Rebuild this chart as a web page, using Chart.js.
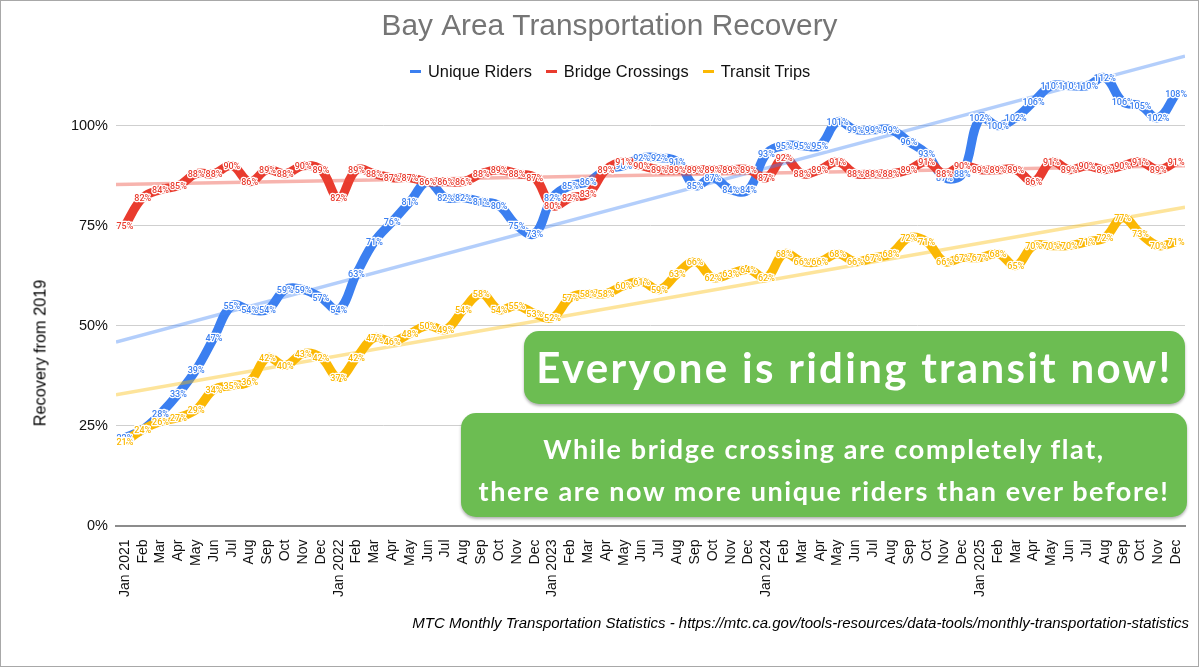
<!DOCTYPE html>
<html>
<head>
<meta charset="utf-8">
<title>Bay Area Transportation Recovery</title>
<script src="https://cdn.jsdelivr.net/npm/chart.js@4/dist/chart.umd.min.js"></script>
<style>
  html, body { margin: 0; padding: 0; background: #fff; }
  #wrap { position: relative; width: 1199px; height: 667px; overflow: hidden; font-family: "Liberation Sans", Arial, sans-serif; }
  #wrap canvas { position: absolute; left: 0; top: 0; }
  #frame { position: absolute; left: 0; top: 0; width: 1197px; height: 665px; border: 1px solid #a8a8a8; pointer-events: none; }
  #legend { position: absolute; left: 410px; top: 62px; display: flex; font-size: 16.4px; line-height: 18px; color: #111; white-space: nowrap; }
  #legend .item { display: flex; align-items: center; margin-right: 14px; }
  #legend .dash { width: 11px; height: 3px; margin-right: 7px; }
  #yTitle { position: absolute; left: 40px; top: 353px; font-size: 16.3px; color: #000; white-space: nowrap; transform: translate(-50%, -50%) rotate(-90deg); }
  #source { position: absolute; right: 10px; top: 614px; font-size: 15px; font-style: italic; color: #000; white-space: nowrap; }
  .callout { position: absolute; background: #6cbd52; border-radius: 15px; box-shadow: 0 2px 3px rgba(0,0,0,.3); color: #fff; text-align: center; font-family: Lato, sans-serif; font-weight: 700; }
  #call1 { left: 524px; top: 331px; width: 661px; height: 73px; line-height: 72px; font-size: 42px; letter-spacing: 2.3px; }
  #call2 { left: 461px; top: 413px; width: 726px; height: 104px; padding-top: 15px; box-sizing: border-box; line-height: 42px; font-size: 27px; letter-spacing: 1.6px; }
</style>
</head>
<body>
<div id="wrap">
  <canvas id="chart" width="1199" height="667"></canvas>
  <div id="legend"></div>
  <div id="yTitle">Recovery from 2019</div>
  <div class="callout" id="call1">Everyone is riding transit now!</div>
  <div class="callout" id="call2">While bridge crossing are completely flat,<br>there are now more unique riders than ever before!</div>
  <div id="source">MTC Monthly Transportation Statistics - https://mtc.ca.gov/tools-resources/data-tools/monthly-transportation-statistics</div>
  <div id="frame"></div>
</div>
<script>
const months = [
  'Jan 2021','Feb','Mar','Apr','May','Jun','Jul','Aug','Sep','Oct','Nov','Dec',
  'Jan 2022','Feb','Mar','Apr','May','Jun','Jul','Aug','Sep','Oct','Nov','Dec',
  'Jan 2023','Feb','Mar','Apr','May','Jun','Jul','Aug','Sep','Oct','Nov','Dec',
  'Jan 2024','Feb','Mar','Apr','May','Jun','Jul','Aug','Sep','Oct','Nov','Dec',
  'Jan 2025','Feb','Mar','Apr','May','Jun','Jul','Aug','Sep','Oct','Nov','Dec'
];
const uniqueRiders = [
  22,24,28,33,39,47,55,54,54,59,59,57,
  54,63,71,76,81,86,82,82,81,80,75,73,
  82,85,86,89,90,92,92,91,85,87,84,84,
  93,95,95,95,101,99,99,99,96,93,87,88,
  102,100,102,106,110,110,110,112,106,105,102,108
];
const bridgeCrossings = [
  75,82,84,85,88,88,90,86,89,88,90,89,
  82,89,88,87,87,86,86,86,88,89,88,87,
  80,82,83,89,91,90,89,89,89,89,89,89,
  87,92,88,89,91,88,88,88,89,91,88,90,
  89,89,89,86,91,89,90,89,90,91,89,91
];
const transitTrips = [
  21,24,26,27,29,34,35,36,42,40,43,42,
  37,42,47,46,48,50,49,54,58,54,55,53,
  52,57,58,58,60,61,59,63,66,62,63,64,
  62,68,66,66,68,66,67,68,72,71,66,67,
  67,68,65,70,70,70,71,72,77,73,70,71
];
// trend lines: value at the left and right edge of the plot
const trendEdges = [0, 1];
const uniqueTrend = [45.9, 117.4];
const bridgeTrend = [85.3, 90];
const transitTrend = [32.7, 79.6];
const yTicks = [0, 25, 50, 75, 100];

const seriesNames = ['Unique Riders', 'Bridge Crossings', 'Transit Trips'];
const seriesColors = ['#3b7ff0', '#e93b2e', '#fbb804'];
const trendColors = ['rgba(66,133,244,.4)', 'rgba(234,67,53,.4)', 'rgba(251,188,4,.4)'];

document.getElementById('legend').innerHTML = seriesNames.map((name, i) =>
  `<div class="item"><div class="dash" style="background:${seriesColors[i]}"></div>${name}</div>`).join('');

const lineDataset = (i, values) => ({
  label: seriesNames[i],
  data: values,
  xAxisID: 'x',
  borderColor: seriesColors[i],
  backgroundColor: seriesColors[i],
  borderWidth: 9,
  tension: 0.4,
  pointRadius: 0,
  order: 6 - i
});
const trendDataset = (i, ends) => ({
  label: seriesNames[i] + ' trend',
  data: trendEdges.map((x, k) => ({ x, y: ends[k] })),
  xAxisID: 'xTrend',
  borderColor: trendColors[i],
  borderWidth: 3.5,
  pointRadius: 0,
  order: 3 - i
});

// white-halo value labels on every point, series by series
const pointLabels = {
  id: 'pointLabels',
  afterDatasetsDraw(chart) {
    const ctx = chart.ctx;
    ctx.save();
    ctx.font = '500 9px Roboto';
    ctx.textAlign = 'center';
    ctx.textBaseline = 'middle';
    ctx.lineJoin = 'round';
    for (let i = 0; i < 3; i++) {
      const ds = chart.data.datasets[i];
      chart.getDatasetMeta(i).data.forEach((pt, k) => {
        const txt = ds.data[k] + '%';
        ctx.strokeStyle = '#fff';
        ctx.lineWidth = 2.5;
        ctx.strokeText(txt, pt.x, pt.y + 1);
        ctx.fillStyle = ds.borderColor;
        ctx.fillText(txt, pt.x, pt.y + 1);
      });
    }
    ctx.restore();
  }
};

new Chart(document.getElementById('chart'), {
  type: 'line',
  data: {
    labels: months,
    datasets: [
      lineDataset(0, uniqueRiders),
      lineDataset(1, bridgeCrossings),
      lineDataset(2, transitTrips),
      trendDataset(0, uniqueTrend),
      trendDataset(1, bridgeTrend),
      trendDataset(2, transitTrend)
    ]
  },
  plugins: [pointLabels],
  options: {
    responsive: false,
    animation: false,
    layout: { autoPadding: false, padding: { left: 30, right: 10, top: 0, bottom: 0 } },
    plugins: {
      legend: { display: false },
      tooltip: { enabled: false },
      title: {
        display: true,
        text: 'Bay Area Transportation Recovery',
        color: '#757575',
        font: { family: '"Liberation Sans"', size: 29.8, weight: 'normal', lineHeight: 1.2 },
        padding: { top: 9, bottom: 1 }
      }
    },
    scales: {
      x: {
        type: 'category',
        offset: true,
        afterFit: s => { s.height = 141.5; },
        grid: { display: false },
        border: { display: true, color: '#8c8c8c', width: 2 },
        ticks: {
          autoSkip: false, maxRotation: 90, minRotation: 90, padding: 6,
          color: '#111', font: { family: '"Liberation Sans"', size: 14 }
        }
      },
      xTrend: { type: 'linear', axis: 'x', display: false, min: 0, max: 1 },
      y: {
        min: 0,
        max: 120,
        afterFit: s => { s.width = 86; },
        afterBuildTicks: s => { s.ticks = yTicks.map(value => ({ value })); },
        grid: { color: '#cfcfcf', drawTicks: false },
        border: { display: false },
        ticks: {
          padding: 8, color: '#111',
          font: { family: '"Liberation Sans"', size: 14.5 },
          callback: v => v + '%'
        }
      }
    }
  }
});
</script>
</body>
</html>
